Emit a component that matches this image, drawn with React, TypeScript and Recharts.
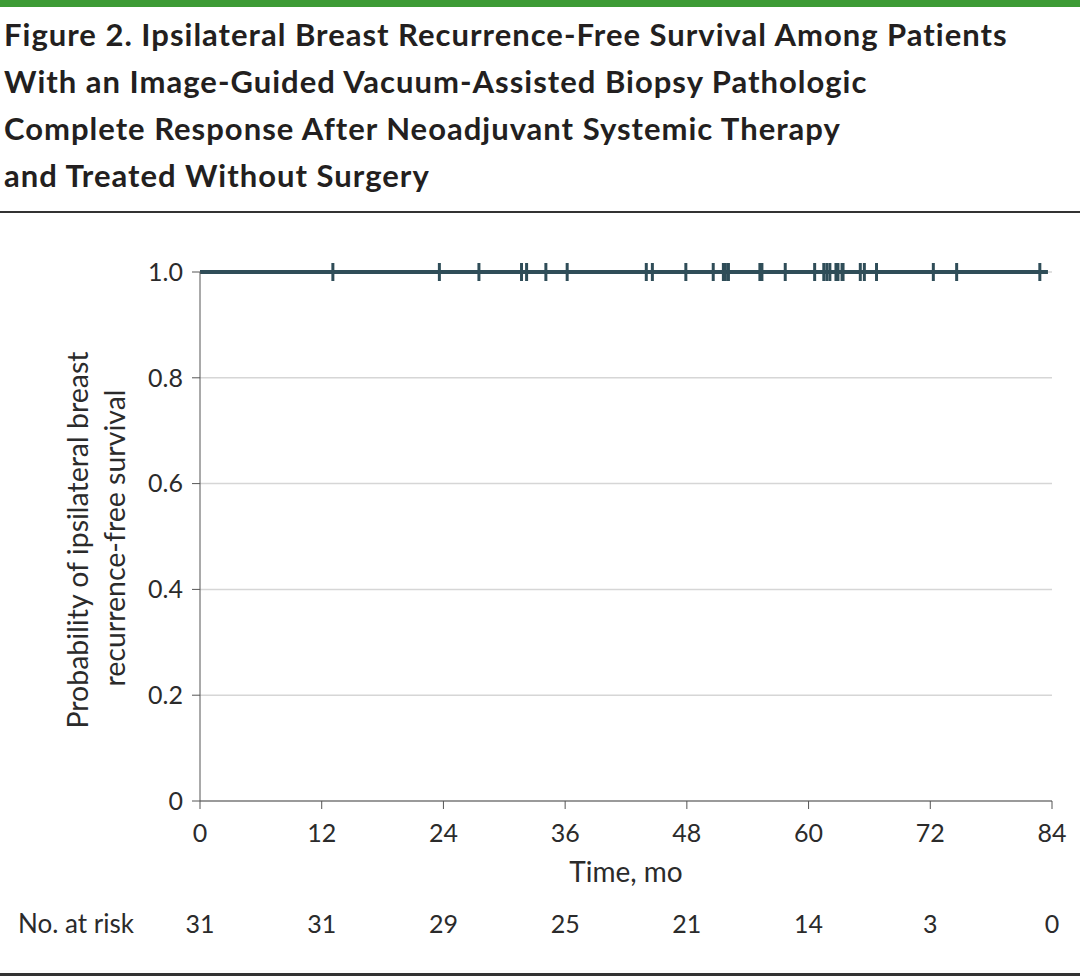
import React from 'react';
import { ComposedChart, Line, Scatter, XAxis, YAxis, CartesianGrid } from 'recharts';

// Months on the x axis, survival probability on the y axis
const monthTicks = [0, 12, 24, 36, 48, 60, 72, 84];
const probTicks = [0, 0.2, 0.4, 0.6, 0.8, 1.0];
const atRisk = [31, 31, 29, 25, 21, 14, 3, 0];

// Kaplan-Meier curve: no events, so it stays at 1.0
const survivalTimes = [0, 83.6];
const survivalProb = [1, 1];

const censorTimes = [
  13.1, 23.6, 27.5, 31.7, 32.2, 34.1, 36.2,
  44.0, 44.6, 47.9, 50.6, 51.6, 51.8, 52.1, 55.2, 55.4, 57.7,
  60.6, 61.5, 61.8, 62.1, 62.7, 62.9, 63.3, 63.4, 65.1, 65.5, 66.7,
  72.3, 74.6, 82.8,
];

const titleLines = [
  'Figure 2. Ipsilateral Breast Recurrence-Free Survival Among Patients',
  'With an Image-Guided Vacuum-Assisted Biopsy Pathologic',
  'Complete Response After Neoadjuvant Systemic Therapy',
  'and Treated Without Surgery',
];

const FONT = 'Lato, "DejaVu Sans Condensed", sans-serif';
const LINE_COLOR = '#2f4d58';
const TEXT_COLOR = '#2b2b2b';

const curveData = survivalTimes.map((t, i) => ({ t, s: survivalProb[i] }));
const censorData = censorTimes.map(t => ({ t, s: 1 }));
const riskData = monthTicks.map(t => ({ t, s: 0 }));

const CensorMark = (props: any) => {
  const { cx, cy } = props;
  return <line x1={cx} x2={cx} y1={cy - 9} y2={cy + 9} stroke={LINE_COLOR} strokeWidth={3} />;
};

const Nothing = () => <g />;

const YLabel = () => (
  <g fill={TEXT_COLOR} fontSize={28.5} fontFamily={FONT}>
    <text x={88} y={540} textAnchor="middle" transform="rotate(-90 88 540)">
      Probability of ipsilateral breast
    </text>
    <text x={125} y={538} textAnchor="middle" transform="rotate(-90 125 538)">
      recurrence-free survival
    </text>
  </g>
);

const App: React.FC = () => {
  return (
    <div style={{ position: 'absolute', left: 0, top: 0, width: 1080, height: 980, background: '#fff', fontFamily: FONT }}>
      <div style={{ position: 'absolute', left: 0, top: 0, width: 1080, height: 7, background: '#3d9b35' }} />
      {titleLines.map((l, i) => (
        <div
          key={i}
          style={{
            position: 'absolute',
            left: 4,
            top: 11 + i * 47,
            fontSize: 31,
            lineHeight: '47px',
            letterSpacing: 1,
            color: '#231f20',
            fontWeight: 700,
            whiteSpace: 'nowrap',
          }}
        >
          {l}
        </div>
      ))}
      <div style={{ position: 'absolute', left: 0, top: 211, width: 1080, height: 2, background: '#333' }} />
      <div style={{ position: 'absolute', left: 0, top: 973, width: 1080, height: 3, background: '#333' }} />
      <div style={{ position: 'absolute', left: 18, top: 908, fontSize: 26, lineHeight: '30px', color: TEXT_COLOR }}>No. at risk</div>

      <div style={{ position: 'absolute', left: 0, top: 0 }}>
        <ComposedChart width={1080} height={980} margin={{ top: 272, right: 28, left: 0, bottom: 44 }}>
          <CartesianGrid vertical={false} stroke="#d6d6d6" strokeWidth={1.5} />
          <XAxis
            xAxisId="main"
            type="number"
            dataKey="t"
            domain={[0, 84]}
            ticks={monthTicks}
            interval={0}
            height={85}
            tickSize={8}
            tickMargin={15}
            stroke="#555"
            tick={{ fill: TEXT_COLOR, fontSize: 25, fontFamily: FONT }}
            label={{ value: 'Time, mo', position: 'insideBottom', offset: 4, fill: TEXT_COLOR, fontSize: 28, fontFamily: FONT }}
          />
          <XAxis
            xAxisId="risk"
            type="number"
            dataKey="t"
            domain={[0, 84]}
            ticks={monthTicks}
            interval={0}
            height={50}
            axisLine={false}
            tickLine={false}
            tickSize={0}
            tickMargin={29}
            tickFormatter={(v: number) => String(atRisk[monthTicks.indexOf(v)])}
            tick={{ fill: TEXT_COLOR, fontSize: 25, fontFamily: FONT }}
          />
          <YAxis
            type="number"
            dataKey="s"
            domain={[0, 1]}
            ticks={probTicks}
            interval={0}
            width={200}
            tickSize={8}
            tickMargin={9}
            stroke="#555"
            tickFormatter={(v: number) => (v === 0 ? '0' : v.toFixed(1))}
            tick={{ fill: TEXT_COLOR, fontSize: 25, fontFamily: FONT }}
            label={{ content: () => <YLabel /> }}
          />
          <Line
            xAxisId="main"
            data={curveData}
            dataKey="s"
            type="stepAfter"
            stroke={LINE_COLOR}
            strokeWidth={4}
            dot={false}
            isAnimationActive={false}
          />
          <Scatter
            xAxisId="main"
            data={censorData}
            dataKey="s"
            shape={<CensorMark />}
            isAnimationActive={false}
          />
          <Scatter
            xAxisId="risk"
            data={riskData}
            dataKey="s"
            shape={<Nothing />}
            isAnimationActive={false}
          />
        </ComposedChart>
      </div>
    </div>
  );
};

export default App;
